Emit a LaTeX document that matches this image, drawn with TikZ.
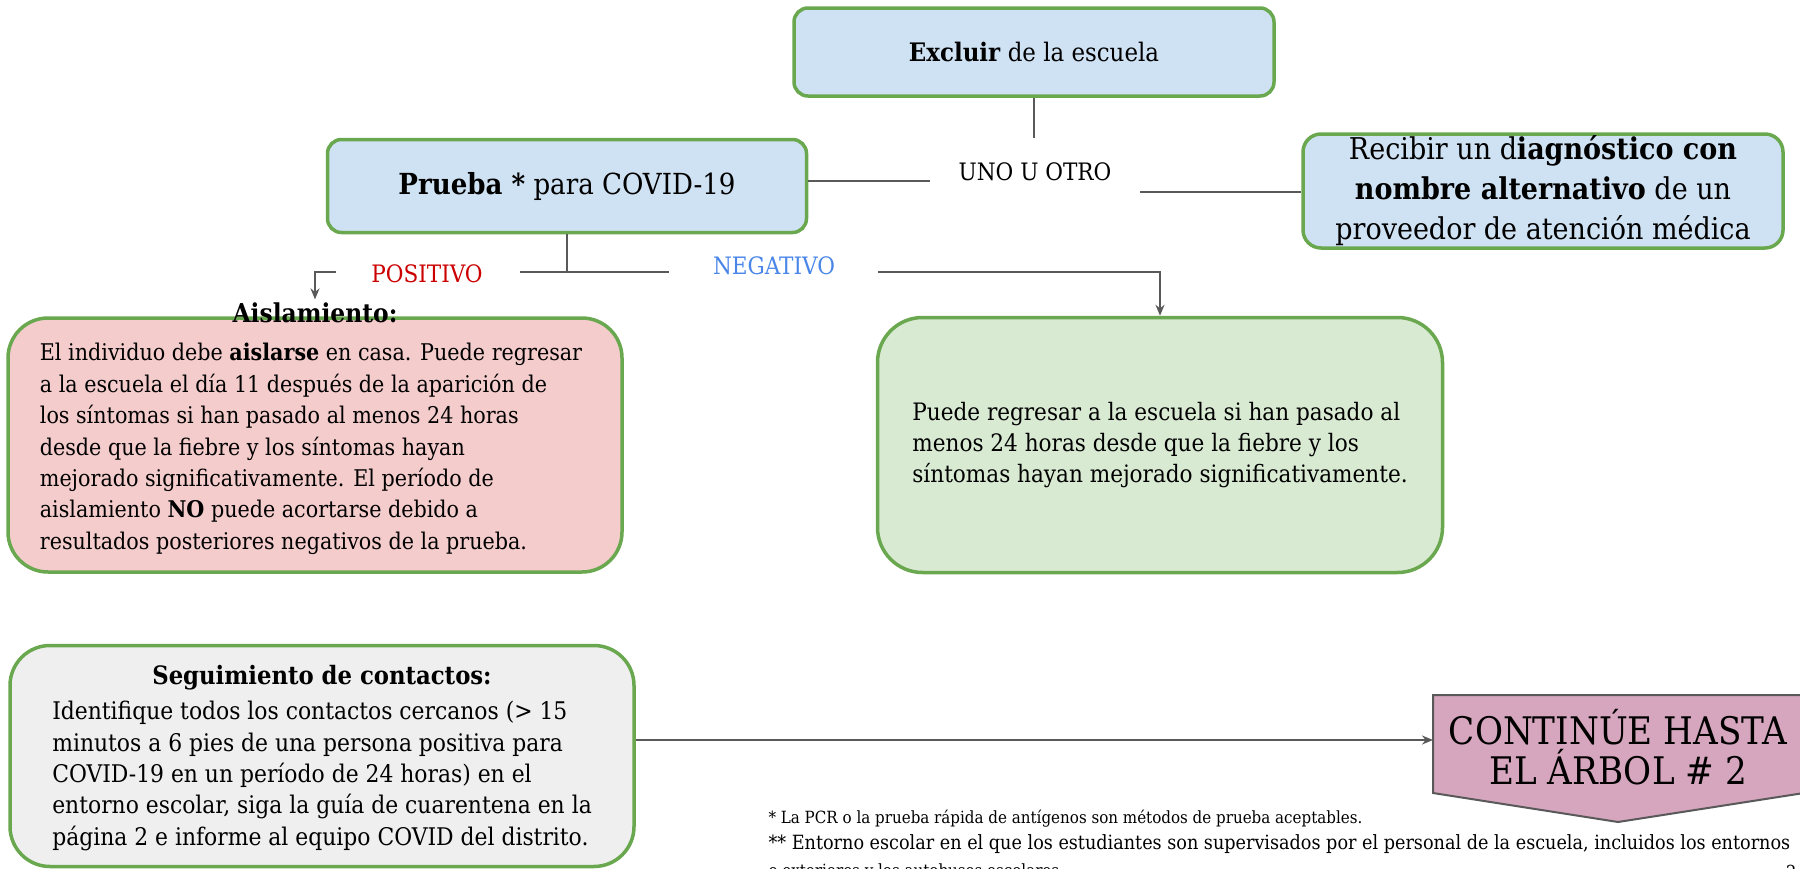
\documentclass[tikz,border=0pt]{standalone}
\usepackage{fontspec}
\setmainfont{DejaVu Serif Condensed}
\usetikzlibrary{arrows.meta}
\definecolor{boxgreen}{HTML}{6AA84F}
\definecolor{lblue}{HTML}{CFE2F3}
\definecolor{lpink}{HTML}{F4CCCC}
\definecolor{lgreen}{HTML}{D9EAD3}
\definecolor{lgray}{HTML}{EFEFEF}
\definecolor{mauve}{HTML}{D5A6BD}
\definecolor{lineclr}{HTML}{595959}
\definecolor{posred}{HTML}{CC0000}
\definecolor{negblue}{HTML}{4A86E8}
\newcommand\setfs[2]{\fontsize{#1}{#2}\selectfont}
\tikzset{
  gbox/.style={draw=boxgreen, line width=3.5pt, inner sep=0pt},
  link/.style={draw=lineclr, line width=2pt},
  arr/.style={link, -{Stealth[length=11pt,width=9pt]}},
  bodytxt/.style={align=left, font=\setfs{24}{31.4}},
  titletxt/.style={font=\setfs{26}{30}\bfseries},
  lbl/.style={font=\setfs{24}{28}},
}
\begin{document}
\begin{tikzpicture}[x=1pt,y=-1pt]
\useasboundingbox (0,0) rectangle (1800,868);
% top boxes
\node[gbox, fill=lblue, rounded corners=14pt, minimum width=480pt, minimum height=88pt, font=\setfs{25.5}{30}] (excl) at (1034,52) {\textbf{Excluir} de la escuela};
\node[gbox, fill=lblue, rounded corners=14pt, minimum width=479pt, minimum height=93pt, font=\setfs{29}{34}] (prueba) at (567,186) {\textbf{Prueba *} para COVID-19};
\node[lbl] (uno) at (1035,172) {UNO U OTRO};
\node[gbox, fill=lblue, rounded corners=18pt, minimum width=480pt, minimum height=114pt, align=center, font=\setfs{30}{40}] (recibir) at (1543,191) {Recibir un d\textbf{iagnóstico con}\\\textbf{nombre alternativo} de un\\proveedor de atención médica};
% connectors top
\coordinate (unotop) at (1034,138);
\coordinate (unoL) at (930,181);
\coordinate (unoR) at (1140,192);
\draw[link] (excl.south) -- (unotop);
\draw[link] (prueba.east |- unoL) -- (unoL);
\draw[link] (unoR) -- (recibir.west |- unoR);
% middle boxes
\node[gbox, fill=lpink, rounded corners=40pt, minimum width=614pt, minimum height=254pt] (aisl) at (315,445) {};
\node[bodytxt, font=\setfs{23}{31.4}] (aislbody) at (311,449) {El individuo debe \textbf{aislarse} en casa. Puede regresar\\a la escuela el día 11 después de la aparición de\\los síntomas si han pasado al menos 24 horas\\desde que la fiebre y los síntomas hayan\\mejorado significativamente. El período de\\aislamiento \textbf{NO} puede acortarse debido a\\resultados posteriores negativos de la prueba.};
\node[titletxt] (aisltitle) at (315,313) {Aislamiento:};
\node[gbox, fill=lgreen, rounded corners=45pt, minimum width=565pt, minimum height=255pt, bodytxt] (negbox) at (1160,445) {Puede regresar a la escuela si han pasado al\\menos 24 horas desde que la fiebre y los\\síntomas hayan mejorado significativamente.};
% result branches
\coordinate (split) at (567,272);
\coordinate (posR) at (520,272);
\coordinate (posL) at (336,272);
\coordinate (negL) at (669,272);
\coordinate (negR) at (878,272);
\draw[link] (prueba.south) -- (split);
\draw[link] (split) -- (posR);
\draw[link] (split) -- (negL);
\node[lbl, text=posred] (pos) at (427,274) {POSITIVO};
\node[lbl, text=negblue] (neg) at (774,266) {NEGATIVO};
\draw[arr] (posL) -| (aisltitle.north);
\draw[arr] (negR) -| (negbox.north);
% contact tracing
\node[gbox, fill=lgray, rounded corners=40pt, minimum width=624pt, minimum height=221pt] (seg) at (322,756) {};
\node[font=\setfs{25.3}{30}\bfseries] (segtitle) at (322,678) {Seguimiento de contactos:};
\node[bodytxt, font=\setfs{24.3}{31.4}] (segbody) at (322,776) {Identifique todos los contactos cercanos (> 15\\minutos a 6 pies de una persona positiva para\\COVID-19 en un período de 24 horas) en el\\entorno escolar, siga la guía de cuarentena en la\\página 2 e informe al equipo COVID del distrito.};
% continue shape
\draw[draw=lineclr, line width=2pt, fill=mauve] (1433,695) -- (1804,695) -- (1804,793) -- (1618,822) -- (1433,793) -- cycle;
\node[font=\setfs{38}{40}, align=center] (cont) at (1618,747) {CONTINÚE HASTA\\EL ÁRBOL \# 2};
\coordinate (contin) at (1433,740);
\draw[arr] (seg.east |- contin) -- (contin);
% footnotes (last line's baseline; last line is cut by the page edge)
\node[anchor=base west, align=left, font=\setfs{16.8}{26.5}] (notes) at (765,876) {* La PCR o la prueba rápida de antígenos son métodos de prueba aceptables.\\\setfs{19.6}{26.5}** Entorno escolar en el que los estudiantes son supervisados por el personal de la escuela, incluidos los entornos\\o exteriores y los autobuses escolares.};
\node[anchor=base east, font=\setfs{18}{26}] (pgnum) at (1800,878) {2};
\end{tikzpicture}
\end{document}
